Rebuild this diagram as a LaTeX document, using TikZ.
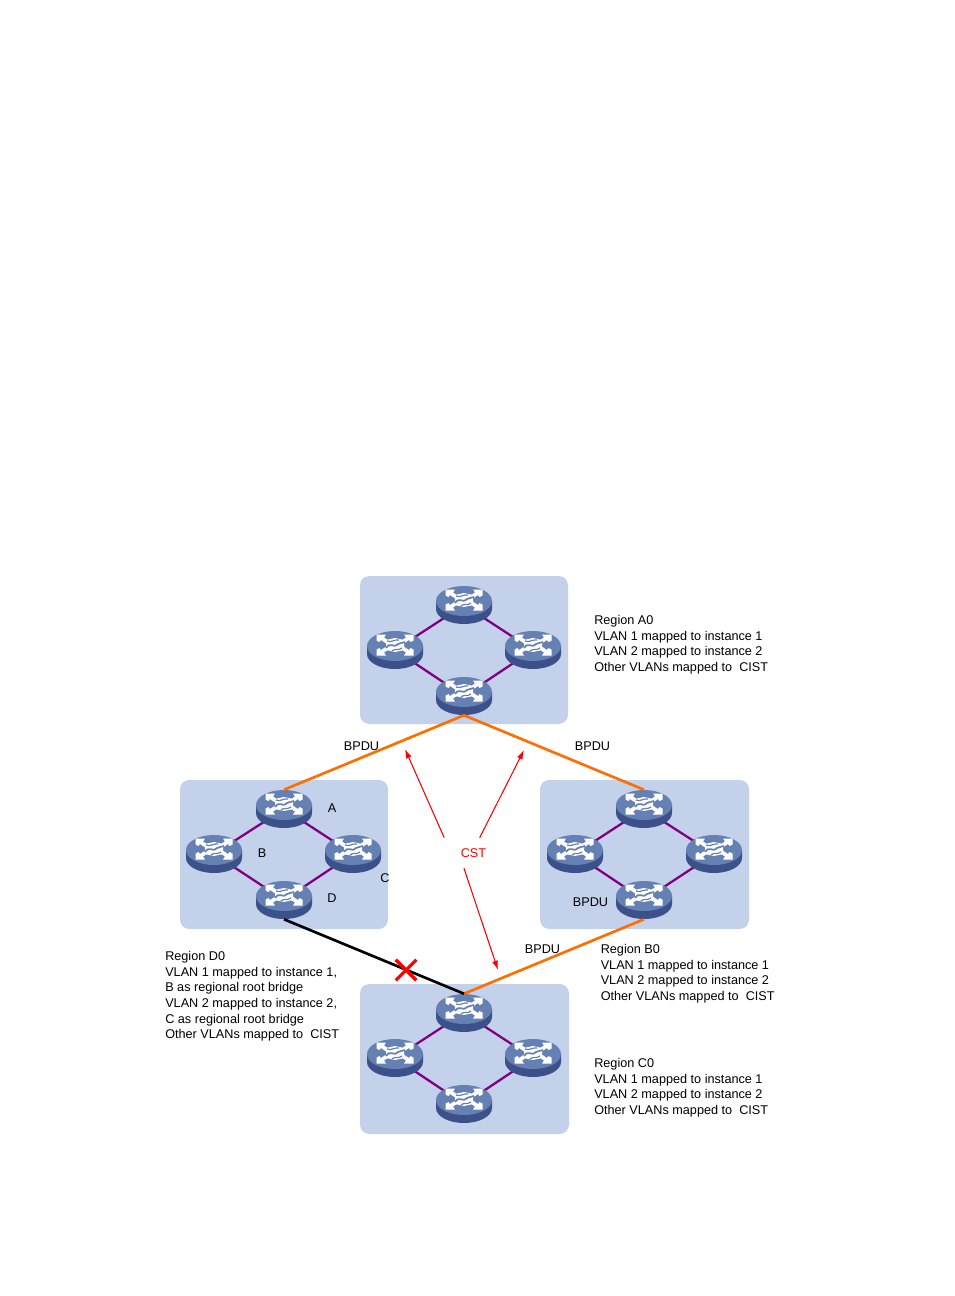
\documentclass[tikz,border=0pt]{standalone}
\usepackage{fontspec}
\setmainfont{Liberation Sans}
\usetikzlibrary{arrows.meta,shapes.misc}
\definecolor{regionblue}{RGB}{195,209,234}
\definecolor{switchtop}{RGB}{101,128,178}
\definecolor{switchside}{RGB}{60,80,138}
\definecolor{linkpurple}{RGB}{128,0,128}
\definecolor{bpduorange}{RGB}{255,110,0}
\tikzset{
  switch/.pic={
    \fill[switchside] (-28,-4) -- (-28,4) arc[start angle=180,end angle=0,x radius=28,y radius=15] -- (28,-4) -- cycle;
    \fill[switchtop] (0,-4) ellipse (28 and 15);
    \foreach \sx/\sy in {1/1,-1/1,1/-1,-1/-1}
      \fill[white,shift={(0,-5)},xscale=\sx,yscale=\sy]
        (18.5,10.5) -- (9,10.5) -- (11,7.5) -- (4,3) -- (8,1) -- (14,5) -- (15.5,3) -- (18.5,4.5) -- cycle;
    \fill[white] (-9,-10) -- (0,-12) -- (9,-10) -- (9,0) -- (0,2) -- (-9,0) -- cycle;
    \draw[switchtop,line width=1.3pt] (-9,-2) .. controls (-4,-9) and (-2,-1) .. (3,-6) .. controls (5,-8) and (7,-6) .. (10,-8);
    \draw[switchtop,line width=0.9pt] (-8,-9) .. controls (-4,-7) and (0,-11) .. (4,-10);
    \draw[switchtop,line width=0.9pt] (-3,1) .. controls (0,-2) and (3,1) .. (7,-2);
    \node[rectangle,inner sep=0pt,minimum width=42pt,minimum height=28.5pt] (-c) at (0,0) {};
  }
}
\begin{document}
\begin{tikzpicture}[x=0.75pt,y=-0.75pt,
    region/.style={fill=regionblue,rounded corners=7pt},
    link/.style={linkpurple,line width=1.7pt},
    bpdu/.style={bpduorange,line width=2pt},
    cstarrow/.style={red,line width=0.8pt,-{Latex[length=7pt,width=4.5pt]}},
    lbl/.style={inner sep=0pt,font=\fontsize{9.5}{11.7}\selectfont},
    info/.style={lbl,align=left,anchor=north west}]
  \useasboundingbox (0,0) rectangle (954,1296);
  \fill[region] (360,576) rectangle (568,724);
  \fill[region] (180,780) rectangle (388,929);
  \fill[region] (540,780) rectangle (749,929);
  \fill[region] (360,984) rectangle (569,1134);

  \coordinate (a1) at (464,605);
  \coordinate (a2) at (395,650);
  \coordinate (a3) at (533,650);
  \coordinate (a4) at (464,696);
  \coordinate (d1) at (284,809);
  \coordinate (d2) at (214,854);
  \coordinate (d3) at (353,854);
  \coordinate (d4) at (284,900);
  \coordinate (b1) at (644,809);
  \coordinate (b2) at (575,854);
  \coordinate (b3) at (714,854);
  \coordinate (b4) at (644,900);
  \coordinate (c1) at (464,1013);
  \coordinate (c2) at (395,1058);
  \coordinate (c3) at (533,1058);
  \coordinate (c4) at (464,1104);

  \foreach \r in {a,d,b,c}
    \draw[link] (\r1) -- (\r2) -- (\r4) -- (\r3) -- cycle;

  \pic (swa1) at (a1) {switch};
  \pic (swa2) at (a2) {switch};
  \pic (swa3) at (a3) {switch};
  \pic (swa4) at (a4) {switch};
  \pic (swd1) at (d1) {switch};
  \pic (swd2) at (d2) {switch};
  \pic (swd3) at (d3) {switch};
  \pic (swd4) at (d4) {switch};
  \pic (swb1) at (b1) {switch};
  \pic (swb2) at (b2) {switch};
  \pic (swb3) at (b3) {switch};
  \pic (swb4) at (b4) {switch};
  \pic (swc1) at (c1) {switch};
  \pic (swc2) at (c2) {switch};
  \pic (swc3) at (c3) {switch};
  \pic (swc4) at (c4) {switch};

  \draw[bpdu] (swa4-c.south) -- (swd1-c.north);
  \draw[bpdu] (swa4-c.south) -- (swb1-c.north);
  \draw[bpdu] (swb4-c.south) -- (swc1-c.north);
  \draw[line width=2pt] (swd4-c.south) -- (swc1-c.north);
  \node[cross out,draw=red,line width=2.4pt,inner sep=0pt,minimum size=13pt] (cut) at (406,970) {};

  \node[lbl,red,minimum width=43.5pt,minimum height=22.5pt] (cst) at (473.5,853) {CST};
  \coordinate (tipd) at (405,749);
  \coordinate (tipb) at (524,750);
  \coordinate (tipc) at (498,970);
  \draw[cstarrow] (cst.north west) -- (tipd);
  \draw[cstarrow] (cst.68) -- (tipb);
  \draw[cstarrow] (cst.238) -- (tipc);

  \node[lbl] (bpdud) at (361.5,746) {BPDU};
  \node[lbl] (bpdub) at (592.5,746) {BPDU};
  \node[lbl] (bpdus) at (590.5,902) {BPDU};
  \node[lbl] (bpduc) at (542.5,949) {BPDU};
  \node[lbl] (lbla) at (332,808) {A};
  \node[lbl] (lblb) at (262,853) {B};
  \node[lbl] (lblc) at (385,878) {C};
  \node[lbl] (lbld) at (332,898) {D};

  \node[info] (infoa) at (594,615.2) {Region A0\\VLAN 1 mapped to instance 1\\VLAN 2 mapped to instance 2\\Other VLANs mapped to\ \ CIST};
  \node[info] (infob) at (600.5,944) {Region B0\\VLAN 1 mapped to instance 1\\VLAN 2 mapped to instance 2\\Other VLANs mapped to\ \ CIST};
  \node[info] (infoc) at (594,1058.2) {Region C0\\VLAN 1 mapped to instance 1\\VLAN 2 mapped to instance 2\\Other VLANs mapped to\ \ CIST};
  \node[info] (infod) at (165,951.2) {Region D0\\VLAN 1 mapped to instance 1,\\B as regional root bridge\\VLAN 2 mapped to instance 2,\\C as regional root bridge\\Other VLANs mapped to\ \ CIST};
\end{tikzpicture}
\end{document}
